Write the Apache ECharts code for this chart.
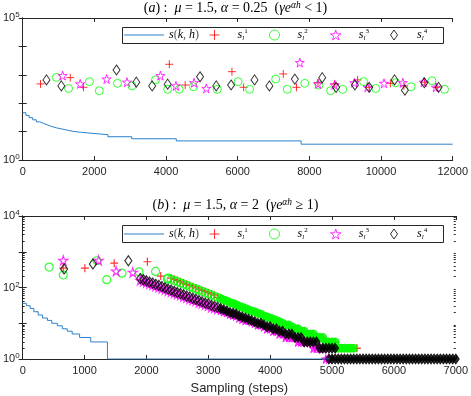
<!DOCTYPE html>
<html>
<head>
<meta charset="utf-8">
<script src="https://cdn.jsdelivr.net/npm/echarts@6.0.0/dist/echarts.min.js"></script>
<style>
  html, body { margin: 0; padding: 0; background: #fff; }
  #chart { width: 471px; height: 396px; }
</style>
</head>
<body>
<div id="chart"></div>
<script>
// ---- panel (a): mu = 1.5, alpha = 0.25 ----
const topCurve = [[0,46],[90,37],[180,31],[280,26],[380,22],[480,19.5],[580,17],[700,15],[820,13.5],[950,12.3],[1100,11.2],[1250,10.2],[1400,9.5],[1613,8.7],[1935,7.8],[2378,6.6],[3041,5.6],[4286,4.7],[7770,3.6],[12000,3.6]]
const topPlus = [[498,479],[1327,794],[1696,363],[4092,2344],[4535,437],[5840,1288],[6166,363],[7272,1072],[7640,363],[8240,525],[8710,479],[9346,661],[9669,363],[10260,501],[10637,407],[11218,550],[11558,363]]
const topCircle = [[940,813],[1281,331],[1862,575],[2138,275],[2646,501],[3050,407],[3705,661],[4046,309],[4369,309],[4765,380],[5429,309],[6010,575],[6332,309],[7060,708],[7383,309],[7872,501],[8268,437],[8592,275],[8931,309],[9512,575],[9853,331],[10406,525],[10840,380],[11420,617],[11772,309]]
const topStar = [[1115,933],[1604,479],[2341,708],[2912,550],[3843,933],[4277,407],[4783,525],[5124,331],[7733,2692],[8240,479],[8701,437],[9254,525],[9622,363],[10083,501],[10609,525],[11190,550],[11530,363]]
const topDiamond = [[664,661],[1078,407],[2618,1479],[3171,550],[3613,407],[4046,468],[4949,851],[5401,407],[5816,437],[6470,661],[6885,407],[7595,708],[8359,794],[8746,363],[9271,437],[9669,363],[10377,661],[10665,288],[11207,525],[11605,363]]

// ---- panel (b): mu = 1.5, alpha = 2 ----
const bottomCurve = [[0,36],[60,31],[120,26],[180,21],[250,17],[320,14],[400,12],[470,10],[560,8.5],[640,7],[720,6],[800,5],[920,4],[1100,3],[1370,1],[4970,1]]
const earlyPlus = [[656,347],[1005,347],[1479,479],[2016,525],[2231,209]]
const earlyCircle = [[428,372],[656,224],[1200,560],[1358,166],[1605,251],[1880,275],[2148,282],[2339,174]]
const earlyStar = [[656,575],[1228,575],[1510,288],[1780,266]]
const earlyDiamond = [[670,330],[1135,457],[1708,562]]

const bandSteps = [1900,1950,2000,2050,2100,2150,2200,2250,2300,2350,
  2400,2450,2500,2550,2600,2650,2700,2750,2800,2850,
  2900,2950,3000,3050,3100,3150,3200,3250,3300,3350,
  3400,3450,3500,3550,3600,3650,3700,3750,3800,3850,
  3900,3950,4000,4050,4100,4150,4200,4250,4300,4350,
  4400,4450,4500,4550,4600,4650,4700,4750,4800,4850,
  4900,4950,5000,5050,5100,5150,5200,5250,5300,5350,5400]
const bandPlus = [null,null,null,null,null,null,null,null,null,null,
  182,169,156,144,133,123,114,105,97,90,
  83,77,71,66,61,53,49,45,42,38,
  36,33,30,28,26,24,22,21,19,18,
  16,15,14,13,12,11,10,9,9,8,
  7,7,6,6,5,5,5,4,4,4,
  3,3,3,3,2,2,2,2,2,2,2]
const bandCircle = [null,null,null,null,null,null,null,null,null,184,
  170,157,146,135,124,115,106,98,91,84,
  78,72,67,62,57,53,49,45,42,38,
  36,33,30,28,26,24,22,21,19,18,
  16,15,14,13,12,11,10,9,9,8,
  7,7,6,6,5,5,5,4,4,4,
  3,3,3,3,2,2,2,2,2,2,null]
const bandStar = [158,148,138,127,118,109,102,94,88,81,
  76,70,65,61,56,52,48,45,42,38,
  36,33,31,28,27,25,23,21,20,18,
  17,16,14,13,12,12,11,10,9,9,
  8,7,7,6,6,5,5,4,4,4,
  4,3,3,3,3,3,2,2,2,2,
  1,1,null,null,null,null,null,null,null,null,null]
const bandDiamond = [178,166,155,143,133,123,115,106,99,91,
  85,79,73,68,63,58,54,50,47,43,
  40,37,35,32,30,28,26,24,22,20,
  19,18,16,15,14,13,12,11,10,10,
  9,8,8,7,7,6,6,5,5,5,
  4,4,4,3,3,3,3,3,2,2,
  2,2,2,2,null,null,null,null,null,null,null]
const tailSteps = [4950,5000,5050,5100,5150,5200,5250,5300,5350,5400,
  5450,5500,5550,5600,5650,5700,5750,5800,5850,5900,
  5950,6000,6050,6100,6150,6200,6250,6300,6350,6400,
  6450,6500,6550,6600,6650,6700,6750,6800,6850,6900,6950,7000]
const tailDiamond = [1,1,1,1,1,1,1,1,1,1,
  1,1,1,1,1,1,1,1,1,1,
  1,1,1,1,1,1,1,1,1,1,
  1,1,1,1,1,1,1,1,1,1,1,1]

const minorTicks = [2,3,4,5,6,7,8,9,20,30,40,50,60,70,80,90,200,300,400,500,600,700,800,900,2000,3000,4000,5000,6000,7000,8000,9000]

// where the sampled markers pile up into a solid band
const DENSE_FROM = 3200

function pairs(xs, ys) {
  return xs.map((x, i) => [x, ys[i]]).filter(p => p[1] != null)
}
const sparse = d => d.filter(p => p[0] < DENSE_FROM)
const dense = d => d.filter(p => p[0] >= DENSE_FROM)

const PLUS = 'path://M5,0 L5,10 M0,5 L10,5'
const STAR = 'path://M50,2 L61,37 L98,37 L68,59 L79,94 L50,72 L21,94 L32,59 L2,37 L39,37 Z'
const DIAMOND = 'path://M3.5,0 L7,5 L3.5,10 L0,5 Z'

const AX = '#262626'
const SANS = 'Liberation Sans'
const SERIF = 'Liberation Serif'
const CURVE = '#2a82cc'
const RED = '#ff0000', GREEN = '#00ff00', MAGENTA = '#ff00ff', BLACK = '#000000'

const mathRich = {
  i: { fontFamily: SERIF, fontStyle: 'italic', fontWeight: 'normal', fontSize: 12, lineHeight: 14, color: '#000' },
  sb: { fontFamily: SERIF, fontStyle: 'italic', fontWeight: 'normal', fontSize: 7, lineHeight: 14, verticalAlign: 'bottom', width: 2, color: '#000' },
  n: { fontFamily: SERIF, fontWeight: 'normal', fontSize: 7, lineHeight: 14, verticalAlign: 'top', color: '#000' }
}

const legendLabels = {
  's(k,h)': '{i|s}({i|k}, {i|h})',
  's1': '{i|s}{sb|l}{n|1}',
  's2': '{i|s}{sb|l}{n|2}',
  's3': '{i|s}{sb|l}{n|3}',
  's4': '{i|s}{sb|l}{n|4}'
}

function hollow(color) {
  return { color: 'transparent', borderColor: color, borderWidth: 1 }
}

function legends(top) {
  const items = [
    [{ name: 's(k,h)', icon: 'rect', itemStyle: { color: CURVE, borderWidth: 0 } }, 124, 40, 1],
    [{ name: 's1', itemStyle: hollow(RED) }, 209, 36, 10],
    [{ name: 's2', itemStyle: hollow(GREEN) }, 269, 36, 10],
    [{ name: 's3', itemStyle: hollow(MAGENTA) }, 330, 36, 10],
    [{ name: 's4', itemStyle: hollow(BLACK) }, 390, 36, 10]
  ]
  return items.map(([item, left, w, h]) => ({
    data: [item],
    left: left,
    top: top,
    padding: 0,
    itemWidth: w,
    itemHeight: h,
    selectedMode: false,
    formatter: n => legendLabels[n],
    textStyle: { fontFamily: SERIF, fontSize: 12, lineHeight: 14, rich: mathRich }
  }))
}

function scatter(name, data, xi, yi, symbol, size, color, bw, filled) {
  return {
    name: name, type: 'scatter', xAxisIndex: xi, yAxisIndex: yi,
    data: data, symbol: symbol, symbolSize: size,
    itemStyle: { color: filled ? color : 'transparent', borderColor: color, borderWidth: bw || 1 },
    emphasis: { disabled: true }
  }
}

function xAxes(grid, max, interval, withName) {
  const base = {
    type: 'value', gridIndex: grid, min: 0, max: max, interval: interval,
    axisLine: { show: true, lineStyle: { color: AX, width: 1 } },
    axisTick: { show: true, inside: true, length: 4, lineStyle: { color: AX } },
    splitLine: { show: false }
  }
  return [
    Object.assign({}, base, {
      position: 'bottom',
      axisLabel: { color: AX, fontFamily: SANS, fontSize: 11, margin: 6, formatter: v => String(v) },
      name: withName ? 'Sampling (steps)' : '',
      nameLocation: 'middle', nameGap: 23,
      nameTextStyle: { color: AX, fontFamily: SANS, fontSize: 13 }
    }),
    Object.assign({}, base, { position: 'top', axisLabel: { show: false } })
  ]
}

function yAxes(grid, max, labelled) {
  const base = {
    type: 'log', logBase: 10, gridIndex: grid, min: 1, max: max,
    axisLine: { show: true, lineStyle: { color: AX, width: 1 } },
    axisTick: { show: true, inside: true, length: 4, lineStyle: { color: AX } },
    splitLine: { show: false }
  }
  return [
    Object.assign({}, base, {
      position: 'left',
      axisLabel: {
        margin: 3, color: AX,
        formatter: v => {
          const e = Math.round(Math.log10(v))
          return labelled.indexOf(e) >= 0 ? '{b|10}{e|' + e + '}' : ''
        },
        rich: {
          b: { fontFamily: SANS, fontSize: 11, lineHeight: 14, color: AX },
          e: { fontFamily: SANS, fontSize: 8, lineHeight: 14, verticalAlign: 'top', color: AX }
        }
      }
    }),
    Object.assign({}, base, { position: 'right', axisLabel: { show: false } })
  ]
}

function minorAxes(grid, max) {
  const base = {
    type: 'log', gridIndex: grid, min: 1, max: max,
    axisLine: { show: false }, axisLabel: { show: false }, splitLine: { show: false },
    axisTick: { show: true, inside: true, length: 2, customValues: minorTicks, lineStyle: { color: AX } }
  }
  return [Object.assign({}, base, { position: 'left' }), Object.assign({}, base, { position: 'right' })]
}

const titleRich = {
  r: { fontFamily: SERIF, fontWeight: 'normal', fontSize: 14, lineHeight: 16, color: '#000' },
  i: { fontFamily: SERIF, fontStyle: 'italic', fontWeight: 'normal', fontSize: 14, lineHeight: 16, color: '#000' },
  sp: { fontFamily: SERIF, fontStyle: 'italic', fontWeight: 'normal', fontSize: 9.5, lineHeight: 16, verticalAlign: 'top', color: '#000' }
}

const chart = echarts.init(document.getElementById('chart'))
chart.setOption({
  animation: false,
  backgroundColor: '#fff',
  title: [
    {
      text: '{r|(}{i|a}{r|) :  }{i|μ}{r| = 1.5, }{i|α}{r| = 0.25  (}{i|γe}{sp|αh}{r| < 1)}',
      left: 'center', top: 0, padding: 0,
      textStyle: { fontWeight: 'normal', rich: titleRich }
    },
    {
      text: '{r|(}{i|b}{r|) :  }{i|μ}{r| = 1.5, }{i|α}{r| = 2  (}{i|γe}{sp|αh}{r| ≥ 1)}',
      left: 'center', top: 197, padding: 0,
      textStyle: { fontWeight: 'normal', rich: titleRich }
    }
  ],
  grid: [
    { left: 22, top: 18, width: 434, height: 142 },
    { left: 22, top: 216, width: 434, height: 143 }
  ],
  xAxis: xAxes(0, 12000, 2000, false).concat(xAxes(1, 7000, 1000, true)),
  yAxis: yAxes(0, 100000, [0, 5]).concat(yAxes(1, 10000, [0, 2, 4])).concat(minorAxes(1, 10000)),
  legend: legends(28).concat(legends(227)),
  graphic: [
    { type: 'rect', z: 3, shape: { x: 122.5, y: 27.5, width: 321, height: 16 }, style: { fill: '#fff', stroke: AX, lineWidth: 1 } },
    { type: 'rect', z: 3, shape: { x: 122.5, y: 225.5, width: 321, height: 17 }, style: { fill: '#fff', stroke: AX, lineWidth: 1 } }
  ],
  series: [
    { name: 's(k,h)', type: 'line', xAxisIndex: 0, yAxisIndex: 0, data: topCurve, step: 'end', symbol: 'none',
      lineStyle: { color: CURVE, width: 1 }, itemStyle: { color: CURVE } },
    scatter('s1', topPlus, 0, 0, PLUS, 8, RED),
    scatter('s2', topCircle, 0, 0, 'circle', 8, GREEN),
    scatter('s3', topStar, 0, 0, STAR, 9, MAGENTA),
    scatter('s4', topDiamond, 0, 0, DIAMOND, [7, 10], BLACK),

    { name: 's(k,h)', type: 'line', xAxisIndex: 2, yAxisIndex: 2, data: bottomCurve, step: 'end', symbol: 'none',
      lineStyle: { color: CURVE, width: 1 }, itemStyle: { color: CURVE } },
    scatter('s1', earlyPlus.concat(sparse(pairs(bandSteps, bandPlus))), 2, 2, PLUS, 8, RED, 1.2),
    scatter('s1', dense(pairs(bandSteps, bandPlus)), 2, 2, PLUS, 8, RED, 1.5),
    scatter('s2', earlyCircle.concat(sparse(pairs(bandSteps, bandCircle))), 2, 2, 'circle', 8, GREEN, 1.2),
    scatter('s2', dense(pairs(bandSteps, bandCircle)), 2, 2, 'circle', 8, GREEN, 1, true),
    scatter('s3', earlyStar.concat(sparse(pairs(bandSteps, bandStar))), 2, 2, STAR, 9, MAGENTA, 1.2),
    scatter('s3', dense(pairs(bandSteps, bandStar)), 2, 2, STAR, 9, MAGENTA, 1, true),
    scatter('s4', earlyDiamond.concat(sparse(pairs(bandSteps, bandDiamond))), 2, 2, DIAMOND, [7, 10], BLACK, 1.2),
    scatter('s4', dense(pairs(bandSteps, bandDiamond)).concat(pairs(tailSteps, tailDiamond)), 2, 2, DIAMOND, [7, 10], BLACK, 1, true)
  ]
})
</script>
</body>
</html>
